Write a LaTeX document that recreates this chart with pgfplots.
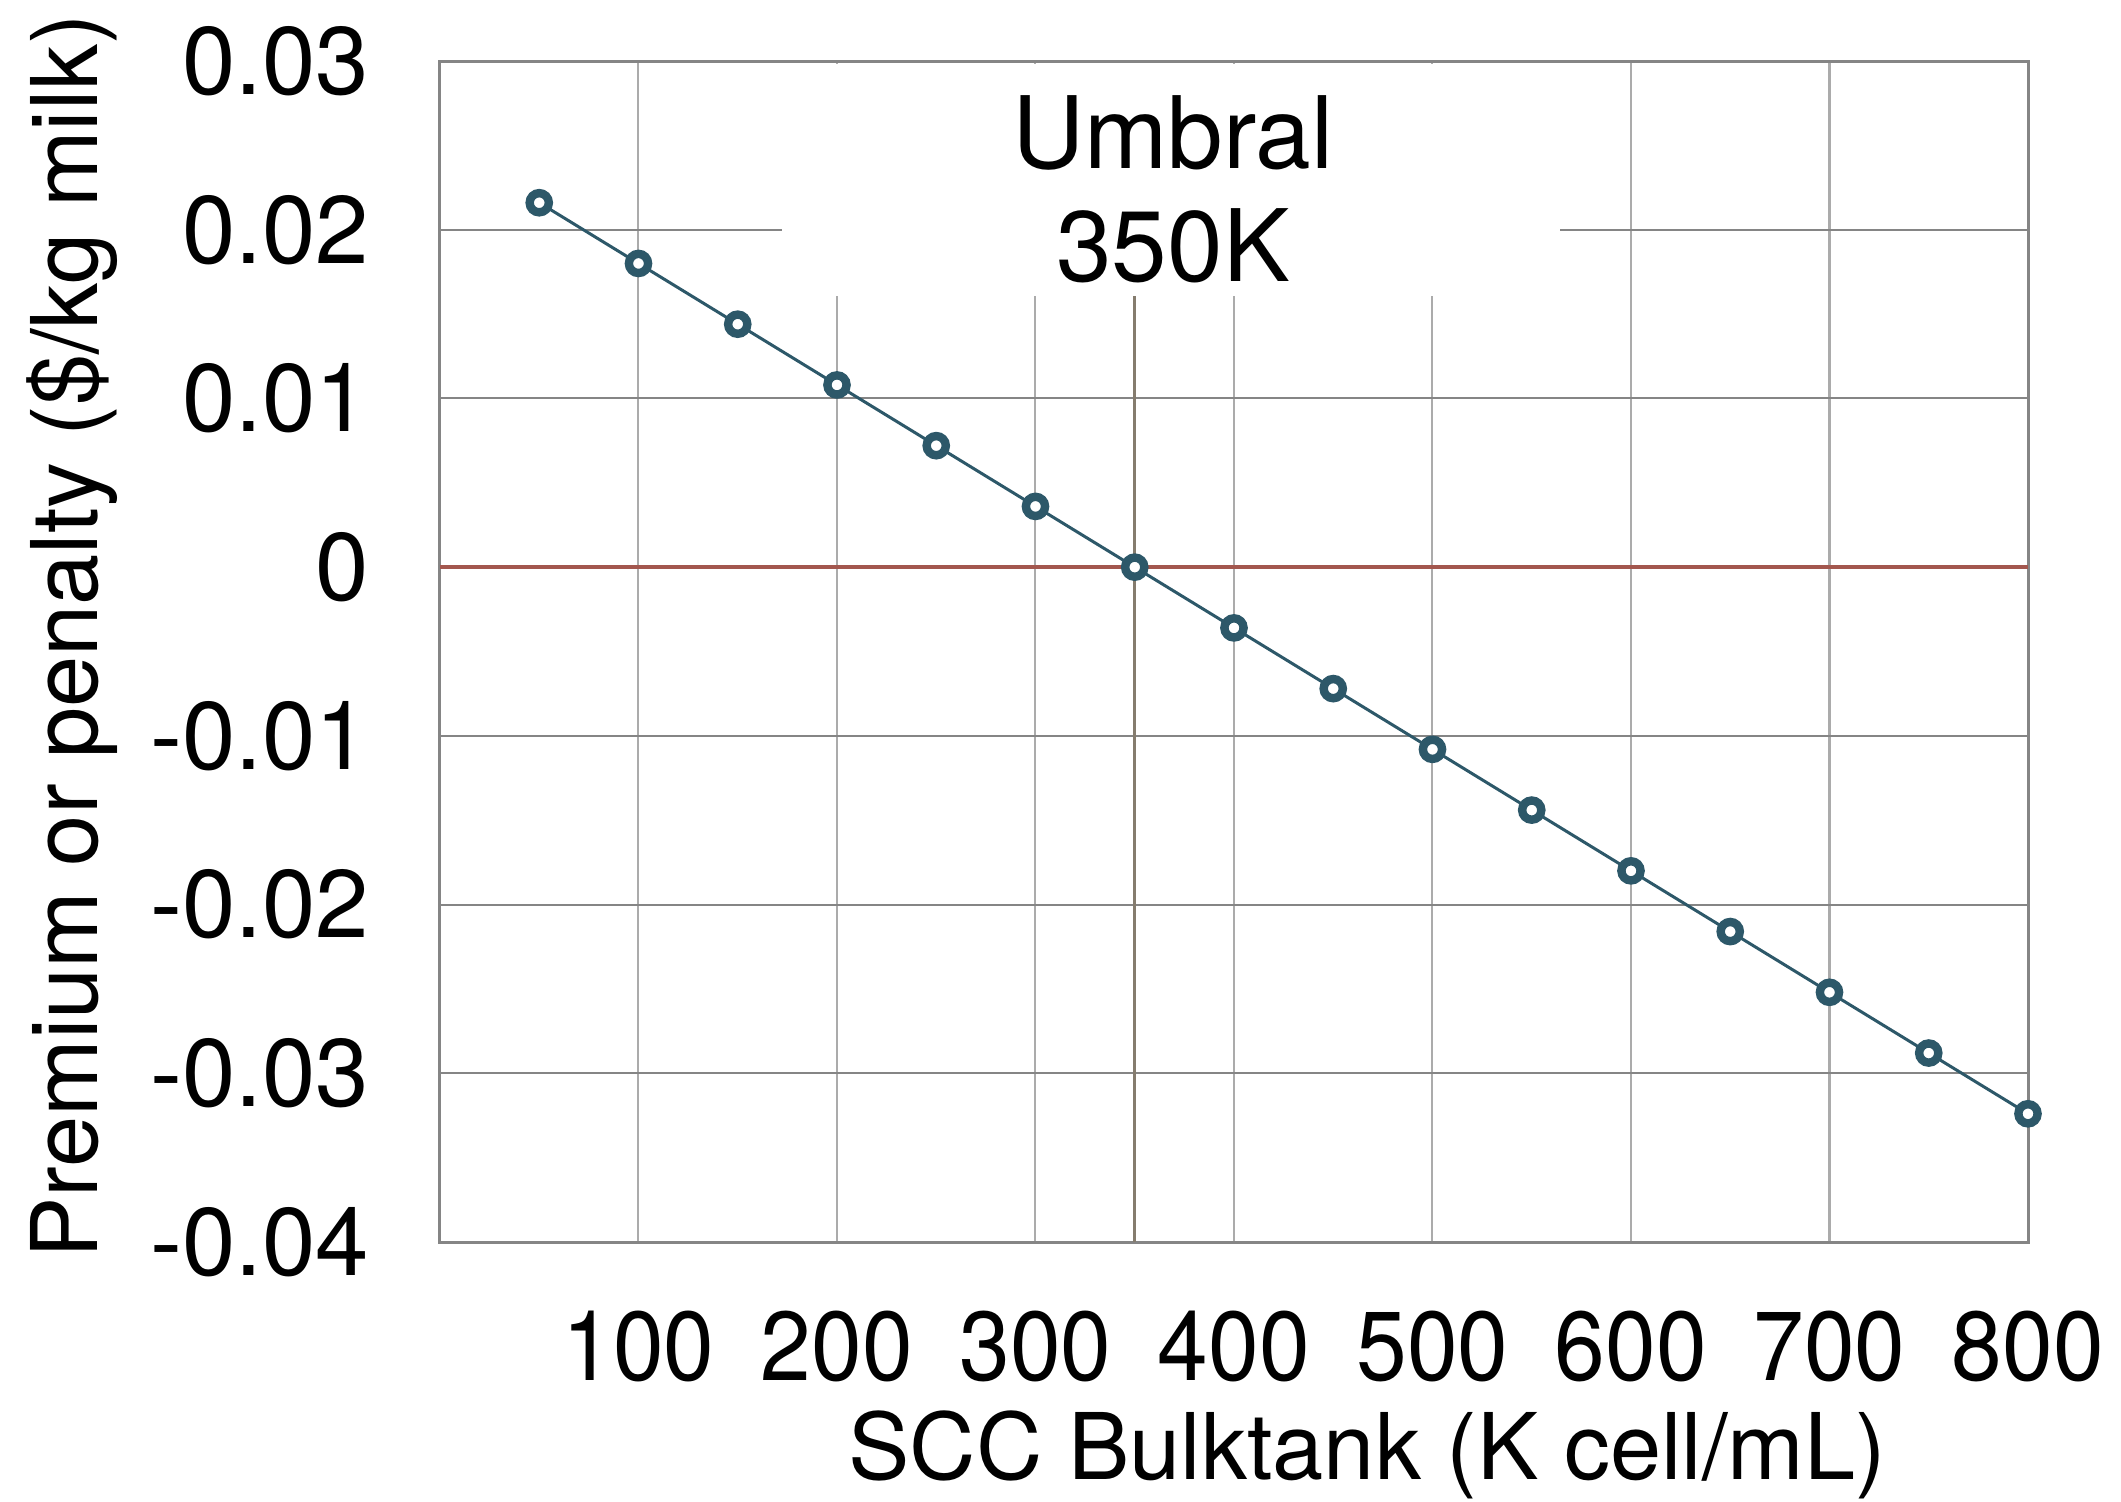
\documentclass[border=0pt]{standalone}
\usepackage{fontspec}
\setmainfont{TeX Gyre Heros}
\newfontfamily\tickcond[FakeStretch=0.93]{TeX Gyre Heros}
\usepackage{pgfplots}
\pgfplotsset{compat=1.18}
\definecolor{ser}{HTML}{2D5869}
\definecolor{zeroline}{HTML}{A3574E}
\definecolor{vline}{HTML}{857C6E}
\definecolor{hgrid}{HTML}{858585}
\definecolor{vgrid}{HTML}{ABABAB}
\definecolor{framec}{HTML}{858585}
\begin{document}
\begin{tikzpicture}
\begin{axis}[
  at={(0,0)}, anchor=south west,
  scale only axis, width=397pt, height=295.25pt,
  xmin=0, xmax=800, ymin=-0.04, ymax=0.03,
  clip=false,
  scaled y ticks=false, scaled x ticks=false,
  xtick={100,200,300,400,500,600,700,800},
  xticklabels={100,200,300,400,500,600,700,800},
  ytick={-0.04,-0.03,-0.02,-0.01,0,0.01,0.02,0.03},
  yticklabels={-0.04,-0.03,-0.02,-0.01,0,0.01,0.02,0.03},
  major tick length=0pt,
  tick style={draw=none},
  grid=major,
  x grid style={vgrid, line width=0.5pt},
  y grid style={hgrid, line width=0.5pt},
  axis line style={framec, line width=0.75pt},
  xticklabel style={font=\fontsize{24.5}{28}\tickcond, anchor=base, yshift=-34.5pt, inner sep=0pt},
  yticklabel style={font=\fontsize{24}{28}\selectfont, anchor=east, xshift=-17.5pt, inner sep=0pt},
  xlabel={SCC Bulktank (K cell/mL)},
  xlabel style={at={(axis description cs:0.584,-0.2015)}, anchor=base, font=\fontsize{23}{27}\selectfont, inner sep=0pt},
  ylabel={Premium or penalty (\$/kg milk)},
  ylabel style={at={(axis description cs:-0.2154,0.513)}, anchor=base, rotate=0, font=\fontsize{23}{27}\selectfont, inner sep=0pt},
]
\fill[white] (axis cs:172.3,0.0161) rectangle (axis cs:564.2,0.0298);
\draw[vline, line width=0.75pt] (axis cs:350,-0.04) -- (axis cs:350,0.0161);
\draw[zeroline, line width=0.9pt] (axis cs:0,0) -- (axis cs:800,0);
\node[anchor=base, font=\fontsize{25}{30}\selectfont] at (axis cs:369.3,0.0236) {Umbral};
\node[anchor=base, font=\fontsize{25}{30}\selectfont] at (axis cs:369.3,0.01696) {350K};
\addplot[color=ser, line width=0.75pt, mark=*, mark size=2.4pt,
  mark options={fill=white, draw=ser, line width=2.1pt}] coordinates {
  (50,0.0216) (100,0.0180) (150,0.0144) (200,0.0108) (250,0.0072)
  (300,0.0036) (350,0) (400,-0.0036) (450,-0.0072) (500,-0.0108)
  (550,-0.0144) (600,-0.0180) (650,-0.0216) (700,-0.0252)
  (750,-0.0288) (800,-0.0324)
};
\end{axis}
\pgfresetboundingbox
\path[use as bounding box] (-110pt,-64.75pt) rectangle (420.25pt,310.5pt);
\end{tikzpicture}
\end{document}
